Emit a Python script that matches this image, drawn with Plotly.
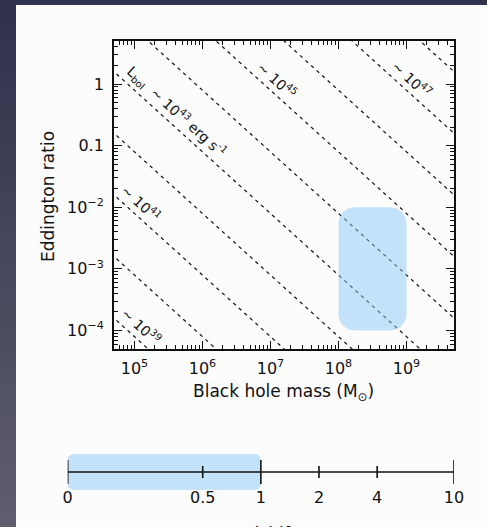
import numpy as np
import plotly.graph_objects as go

# ---------------- data ----------------
lum_exponents = [39, 40, 41, 42, 43, 44, 45, 46, 47, 48]          # log10 L_bol (erg/s) of dashed lines
labelled_exponents = [39, 41, 43, 45, 47]
log_ledd_per_msun = np.log10(1.26e38)                              # Eddington luminosity per solar mass
mass_ticks = [1e5, 1e6, 1e7, 1e8, 1e9]
mass_ticktext = ["10<sup>5</sup>", "10<sup>6</sup>", "10<sup>7</sup>", "10<sup>8</sup>", "10<sup>9</sup>"]
edd_ticks = [1, 0.1, 1e-2, 1e-3, 1e-4]
edd_ticktext = ["1", "0.1", "10<sup>−2</sup>", "10<sup>−3</sup>", "10<sup>−4</sup>"]
mass_range = [5e4, 5e9]
edd_range = [5e-5, 5]
box_mass = [1e8, 1e9]
box_edd = [1e-4, 1e-2]
z_ticks = [0.1, 0.5, 1, 2, 4, 10]          # 0 drawn at the left end of the log scale
z_ticktext = ["0", "0.5", "1", "2", "4", "10"]
z_major = [0.1, 1, 10]
z_minor = [0.5, 2, 4]
z_range = [0.1, 10]
z_box = [0.1, 1]

# ---------------- layout geometry ----------------
W, H = 487, 527
ML, MR, MT, MB = 60, 33, 41, 0
PW, PH = W - ML - MR, H - MT - MB


def px_x(p):
    return (p - ML) / PW


def px_y(p):
    return (H - MB - p) / PH


def rounded_rect(x0, x1, y0, y1, rx, ry, n=12):
    xs, ys = [], []
    corners = [(x1 - rx, y1 - ry, 0), (x0 + rx, y1 - ry, 90), (x0 + rx, y0 + ry, 180), (x1 - rx, y0 + ry, 270)]
    for cx, cy, a0 in corners:
        for t in np.radians(np.linspace(a0, a0 + 90, n)):
            xs.append(cx + rx * np.cos(t))
            ys.append(cy + ry * np.sin(t))
    xs.append(xs[0]); ys.append(ys[0])
    return np.array(xs), np.array(ys)


def log_minor(lo_exp, hi_exp):
    return [k * 10.0 ** d for d in range(lo_exp, hi_exp) for k in range(2, 10)]


fig = go.Figure()

# dashed constant-luminosity lines
m_ends = np.array([1e4, 1e10])
for L in lum_exponents:
    lam = 10 ** (L - log_ledd_per_msun) / m_ends
    fig.add_trace(go.Scatter(x=m_ends, y=lam, mode="lines",
                             line=dict(color="#111111", width=1.2, dash="3.5px,4px"),
                             hoverinfo="skip", showlegend=False, xaxis="x", yaxis="y"))

# blue region in main panel
lx0, lx1 = np.log10(box_mass)
ly0, ly1 = np.log10(box_edd)
bx, by = rounded_rect(lx0, lx1, ly0, ly1, 16 / 68.0, 16 / 61.6)
fig.add_trace(go.Scatter(x=10 ** bx, y=10 ** by, mode="lines", fill="toself",
                         fillcolor="rgba(140,200,245,0.5)", line=dict(width=0),
                         hoverinfo="skip", showlegend=False, xaxis="x", yaxis="y"))

# bottom number line: blue region
zx0, zx1 = np.log10(z_box)
zbx, zby = rounded_rect(zx0, zx1, -18, 18, 6 / 194.0, 6)
fig.add_trace(go.Scatter(x=10 ** zbx, y=zby, mode="lines", fill="toself",
                         fillcolor="rgba(140,200,245,0.5)", line=dict(width=0),
                         hoverinfo="skip", showlegend=False, xaxis="x2", yaxis="y2"))
# number line itself
fig.add_trace(go.Scatter(x=z_range, y=[0, 0], mode="lines", line=dict(color="#111111", width=1.6),
                         hoverinfo="skip", showlegend=False, xaxis="x2", yaxis="y2"))
# tick marks
tx, ty = [], []
for v in z_major:
    tx += [v, v, None]; ty += [-12, 12, None]
for v in z_minor:
    tx += [v, v, None]; ty += [-6, 6, None]
fig.add_trace(go.Scatter(x=tx, y=ty, mode="lines", line=dict(color="#111111", width=1.6),
                         hoverinfo="skip", showlegend=False, xaxis="x2", yaxis="y2"))

# labels along the lines
ann = []
label_font = dict(family="DejaVu Sans", size=14, color="#111111")
for L, m in zip(labelled_exponents, [5.10, 5.10, 5.62, 7.10, 9.08]):
    lam = L - log_ledd_per_msun - m + 0.27
    if L == 43:
        txt = "L<sub>bol</sub>  ~ 10<sup>43</sup> erg s<sup>-1</sup>"
    else:
        txt = "~ 10<sup>%d</sup>" % L
    ann.append(dict(x=m, y=lam, xref="x", yref="y", text=txt, showarrow=False,
                    textangle=42.2, font=label_font, xanchor="center", yanchor="middle"))

title_font = dict(family="DejaVu Sans", size=17, color="#111111")
ann.append(dict(x=px_x(48), y=px_y(197), xref="paper", yref="paper", text="Eddington ratio",
                showarrow=False, textangle=-90, font=title_font, xanchor="center", yanchor="middle"))
ann.append(dict(x=px_x(283), y=px_y(392), xref="paper", yref="paper",
                text="Black hole mass (M<sub>⊙</sub>)", showarrow=False, font=title_font,
                xanchor="center", yanchor="middle"))
ann.append(dict(x=px_x(261), y=px_y(522), xref="paper", yref="paper", text="Redshift",
                showarrow=False, font=title_font, xanchor="center", yanchor="top"))

# background: dark slide strips
shapes = []
top_c = np.array([0x31, 0x31, 0x4d])
bot_c = np.array([0x5e, 0x5e, 0x6e])
n = 30
for i in range(n):
    c = top_c + (bot_c - top_c) * i / (n - 1)
    y0p = H * i / n
    y1p = H * (i + 1) / n + 1
    shapes.append(dict(type="rect", xref="paper", yref="paper", x0=px_x(-2), x1=px_x(16),
                       y0=px_y(y1p), y1=px_y(y0p), line=dict(width=0),
                       fillcolor="rgb(%d,%d,%d)" % tuple(c.astype(int)), layer="below"))
shapes.append(dict(type="rect", xref="paper", yref="paper", x0=px_x(15), x1=px_x(W + 2),
                   y0=px_y(5), y1=px_y(-2), line=dict(width=0), fillcolor="#32324e", layer="below"))

tick_font = dict(family="DejaVu Sans", size=16, color="#111111")


def axis_common(minor_vals):
    return dict(type="log", showgrid=False, zeroline=False, showline=True, linecolor="#111111",
                linewidth=1.8, mirror="allticks", ticks="inside", ticklen=8, tickwidth=1.2,
                tickcolor="#111111", tickfont=tick_font,
                minor=dict(ticks="inside", ticklen=4, tickwidth=1, tickcolor="#111111",
                           tickmode="array", tickvals=minor_vals, showgrid=False))


fig.update_layout(
    width=W, height=H, margin=dict(l=ML, r=MR, t=MT, b=MB, autoexpand=False),
    paper_bgcolor="#fcfcfd", plot_bgcolor="rgba(0,0,0,0)",
    showlegend=False,
    xaxis=dict(axis_common(log_minor(4, 10)), domain=[px_x(114), 1], range=list(np.log10(mass_range)),
               tickmode="array", tickvals=mass_ticks, ticktext=mass_ticktext,
               anchor="y", ticklabelstandoff=4),
    yaxis=dict(axis_common(log_minor(-5, 1)), domain=[px_y(349), 1], range=list(np.log10(edd_range)),
               tickmode="array", tickvals=edd_ticks, ticktext=edd_ticktext,
               anchor="x", ticklabelstandoff=5),
    xaxis2=dict(type="log", domain=[px_x(67.7), 1], range=list(np.log10(z_range)),
                anchor="free", position=px_y(486), showline=False, showgrid=False, zeroline=False,
                ticks="", tickmode="array", tickvals=z_ticks, ticktext=z_ticktext,
                tickfont=tick_font),
    yaxis2=dict(domain=[px_y(496), px_y(448)], range=[-24, 24], visible=False, anchor="x2"),
    annotations=ann, shapes=shapes,
)

fig.write_html("out.html")
